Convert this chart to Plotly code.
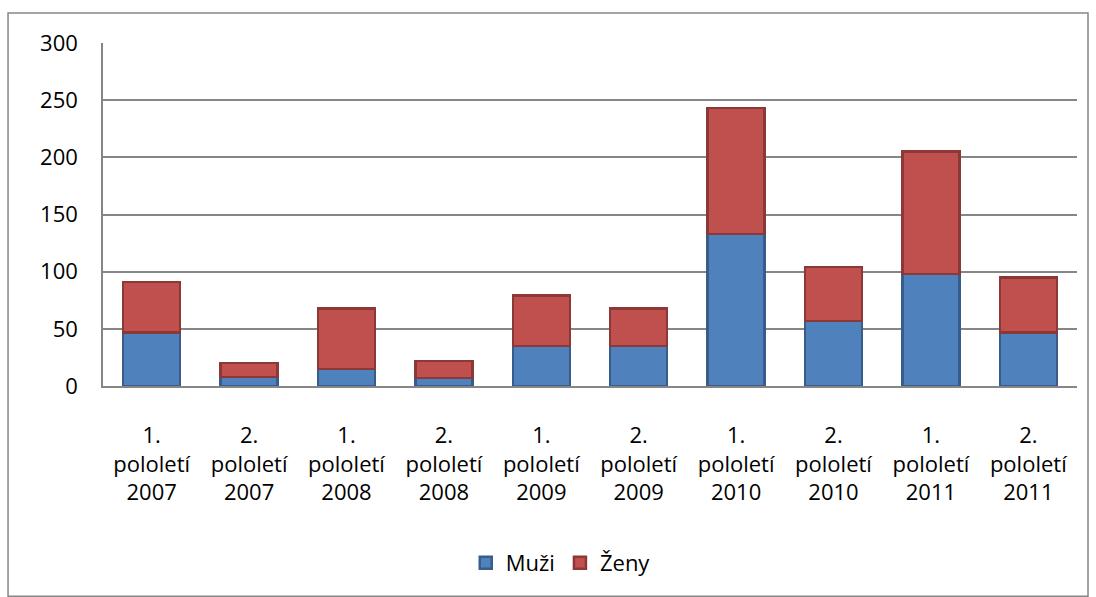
import plotly.graph_objects as go

categories = ["1.<br>pololetí<br>2007", "2.<br>pololetí<br>2007", "1.<br>pololetí<br>2008",
              "2.<br>pololetí<br>2008", "1.<br>pololetí<br>2009", "2.<br>pololetí<br>2009",
              "1.<br>pololetí<br>2010", "2.<br>pololetí<br>2010", "1.<br>pololetí<br>2011",
              "2.<br>pololetí<br>2011"]
muzi = [47, 8, 15, 7, 35, 35, 133, 57, 98, 47]
zeny = [44, 12, 53, 15, 44, 33, 110, 47, 107, 48]
y_ticks = [0, 50, 100, 150, 200, 250, 300]

FONT = "Open Sans"

fig = go.Figure()
fig.add_trace(go.Bar(name="Muži", x=categories, y=muzi,
                     marker=dict(color="#4F81BD", line=dict(color="#385D8A", width=2.5))))
fig.add_trace(go.Bar(name="Ženy", x=categories, y=zeny,
                     marker=dict(color="#C0504D", line=dict(color="#8C3836", width=2.5))))

fig.update_layout(
    barmode="stack",
    bargap=0.415,
    width=1096, height=597,
    margin=dict(l=103, r=19, t=43, b=211),
    paper_bgcolor="white", plot_bgcolor="white",
    font=dict(family=FONT, size=22, color="black"),
    showlegend=True,
    legend=dict(orientation="h", x=0.47, xanchor="center", y=-0.516, yanchor="middle",
                font=dict(size=22), itemwidth=30, traceorder="normal"),
    shapes=[dict(type="rect", xref="paper", yref="paper", x0=-0.0975, x1=1.0113,
                 y0=-0.613, y1=1.0875, line=dict(color="#868686", width=1.5),
                 fillcolor="rgba(0,0,0,0)", layer="below")],
)
fig.update_yaxes(range=[0, 300], tickvals=y_ticks, showgrid=True, gridcolor="#868686",
                 gridwidth=1.5, showline=True, linecolor="#868686", linewidth=1.5,
                 ticks="", ticklabelstandoff=19, zeroline=False)
fig.update_xaxes(showline=True, linecolor="#868686", linewidth=1.5, ticks="",
                 ticklabelstandoff=29, tickangle=0, mirror=False)

fig.write_html("out.html", config={"displayModeBar": False},
               post_script="document.body.style.margin='0px';document.body.style.overflow='hidden';")
